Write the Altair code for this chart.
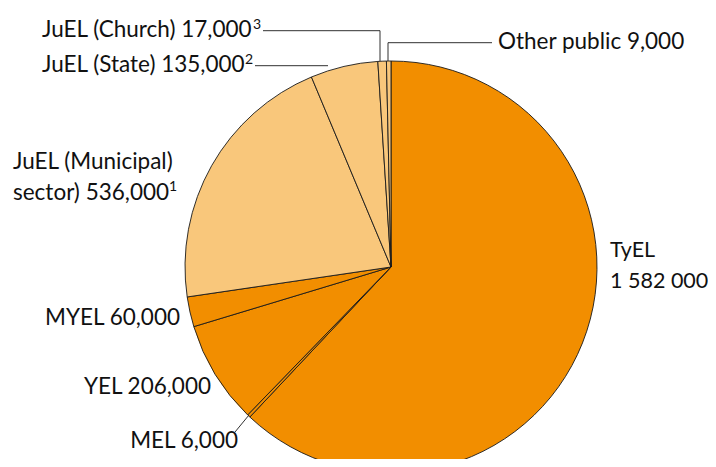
import altair as alt
import pandas as pd

# ---- data ----
categories = ["TyEL", "MEL", "YEL", "MYEL", "JuEL (Municipal sector)",
              "JuEL (State)", "JuEL (Church)", "Other public"]
values = [1582000, 6000, 206000, 60000, 536000, 135000, 17000, 9000]
sectors = ["private", "private", "private", "private",
           "public", "public", "public", "public"]

label_texts = [
    ["TyEL", "1 582 000"],
    ["MEL 6,000"],
    ["YEL 206,000"],
    ["MYEL 60,000"],
    ["JuEL (Municipal)", "sector) 536,000"],
    ["JuEL (State) 135,000"],
    ["JuEL (Church) 17,000"],
    ["Other public 9,000"],
]
footnote_marks = ["1", "2", "3"]

# ---- layout (pixels in plot area) ----
W, H = 700, 451
CX, CY, R = 383, 259, 206
FONT = "Lato"
FS = 22.5

label_pos = [  # x, y (baseline of first line), align, font size
    (602, 249, "left", 21.5),
    (230, 440, "right", FS),
    (203, 386, "right", FS),
    (172, 317, "right", FS),
    (5, 161, "left", FS),
    (34, 64, "left", FS),
    (34, 29, "left", FS),
    (490, 41, "left", FS),
]
footnote_pos = [(161, 183), (237, 56), (245, 21)]
leader_segments = [  # x, y, x2, y2
    (255, 22.7, 372, 22.7), (372, 22.7, 372, 53),      # Church
    (247, 57.7, 320, 57.7),                             # State
    (380, 34.7, 484, 34.7), (380, 34.7, 380, 53),       # Other public
    (227, 424, 241, 407),                               # MEL
]

df = pd.DataFrame({
    "category": categories,
    "value": values,
    "sector": sectors,
    "order": list(range(len(categories))),
})

pie = alt.Chart(df).mark_arc(
    x=CX, y=CY, outerRadius=R, stroke="#1a1a1a", strokeWidth=0.9
).encode(
    theta=alt.Theta("value:Q", stack=True),
    order=alt.Order("order:Q"),
    color=alt.Color("sector:N", legend=None,
                    scale=alt.Scale(domain=["private", "public"],
                                    range=["#F28E00", "#F9C77B"])),
)

one = pd.DataFrame({"a": [0]})
layers = [pie]
for (x, y, x2, y2) in leader_segments:
    layers.append(
        alt.Chart(one).mark_rule(color="#1a1a1a", strokeWidth=0.9).encode(
            x=alt.value(x), y=alt.value(y), x2=alt.value(x2), y2=alt.value(y2))
    )

for lines, (x, y, align, fs) in zip(label_texts, label_pos):
    layers.append(
        alt.Chart(one).mark_text(
            font=FONT, fontSize=fs, color="#111111", align=align,
            baseline="alphabetic", lineHeight=31
        ).encode(x=alt.value(x), y=alt.value(y), text=alt.value(lines))
    )

for mark, (x, y) in zip(footnote_marks, footnote_pos):
    layers.append(
        alt.Chart(one).mark_text(
            font=FONT, fontSize=14, color="#111111", align="left",
            baseline="alphabetic"
        ).encode(x=alt.value(x), y=alt.value(y), text=alt.value(mark))
    )

chart = alt.layer(*layers).properties(
    width=W, height=H, autosize="none", padding=0
).configure_view(stroke=None)

chart.save("out.html", embed_options={"renderer": "svg", "actions": False})
